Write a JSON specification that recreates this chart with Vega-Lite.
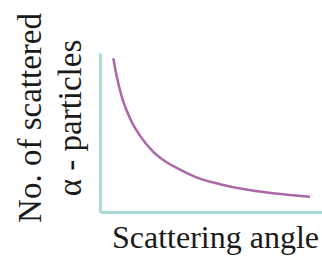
{
  "$schema": "https://vega.github.io/schema/vega-lite/v6.json",
  "width": 222,
  "height": 159,
  "autosize": "none",
  "padding": {"left": 100, "top": 53, "right": 0, "bottom": 48},
  "background": "white",
  "config": {"view": {"stroke": null}},
  "data": {
    "values": [
      {"angle": 6.0, "count": 96.7},
      {"angle": 7.5, "count": 85.5},
      {"angle": 9.8, "count": 72.5},
      {"angle": 13.5, "count": 59.0},
      {"angle": 18.0, "count": 48.0},
      {"angle": 23.9, "count": 38.0},
      {"angle": 30.0, "count": 31.3},
      {"angle": 36.0, "count": 26.7},
      {"angle": 45.0, "count": 21.0},
      {"angle": 54.1, "count": 17.5},
      {"angle": 64.4, "count": 14.4},
      {"angle": 75.2, "count": 12.2},
      {"angle": 85.6, "count": 10.7},
      {"angle": 94.6, "count": 9.6}
    ]
  },
  "mark": {"type": "line", "color": "#ac68a6", "strokeWidth": 2.5, "interpolate": "monotone"},
  "encoding": {
    "x": {
      "field": "angle",
      "type": "quantitative",
      "scale": {"domain": [0, 100], "nice": false},
      "axis": {
        "title": "Scattering angle",
        "ticks": false,
        "labels": false,
        "grid": false,
        "domainColor": "#a8ddd5",
        "domainWidth": 3,
        "titleFont": "Liberation Serif",
        "titleFontSize": 32,
        "titleFontWeight": "normal",
        "titleColor": "#1a1a1a",
        "titlePadding": 10,
        "titleX": 115
      }
    },
    "y": {
      "field": "count",
      "type": "quantitative",
      "scale": {"domain": [0, 100], "nice": false},
      "axis": {
        "title": ["No. of scattered", "α - particles"],
        "ticks": false,
        "labels": false,
        "grid": false,
        "domainColor": "#a8ddd5",
        "domainWidth": 3,
        "titleFont": "Liberation Serif",
        "titleFontSize": 33,
        "titleFontWeight": "normal",
        "titleColor": "#1a1a1a",
        "titleLineHeight": 40,
        "titleBaseline": "alphabetic",
        "titleAngle": -90,
        "titleX": -60,
        "titleY": 64.5
      }
    }
  }
}
